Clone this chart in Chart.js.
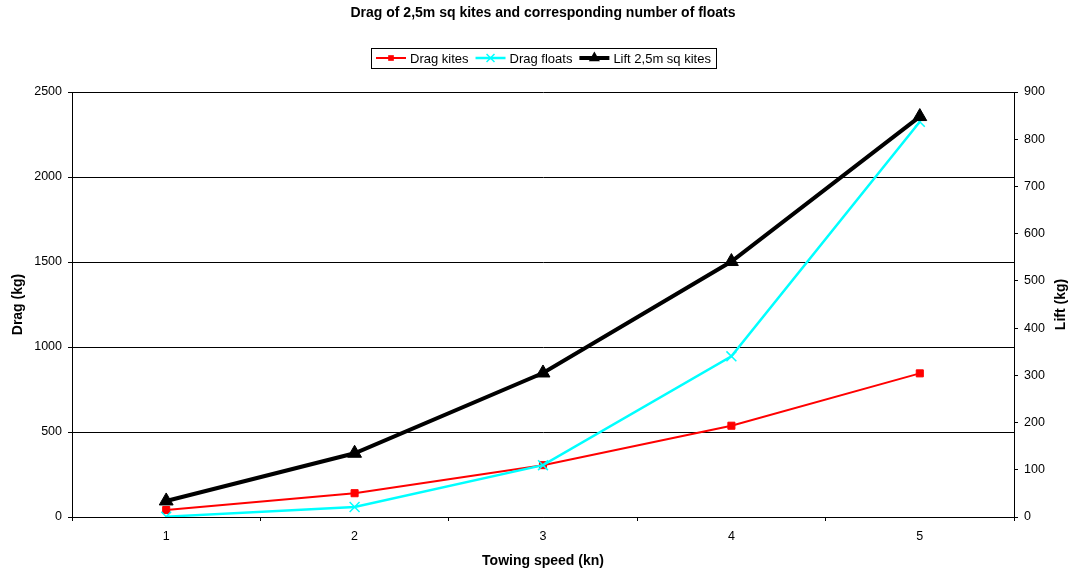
<!DOCTYPE html>
<html>
<head>
<meta charset="utf-8">
<title>Drag of 2,5m sq kites</title>
<script src="https://cdn.jsdelivr.net/npm/chart.js@4/dist/chart.umd.min.js"></script>
<style>
  html, body { margin: 0; padding: 0; background: #fff; }
  #wrap { width: 1071px; height: 572px; }
</style>
</head>
<body>
<div id="wrap"><canvas id="chart" width="1071" height="572"></canvas></div>
<script>
var speeds = ['1', '2', '3', '4', '5'];
var dragKites = [41, 140, 305, 537, 845];
var dragFloats = [2, 59, 305, 945, 2325];
var liftKites = [34, 135, 305, 541, 848];
var dragTicks = [0, 500, 1000, 1500, 2000, 2500];
var liftTicks = [0, 100, 200, 300, 400, 500, 600, 700, 800, 900];

var chartTitle = 'Drag of 2,5m sq kites and corresponding number of floats';
var liftTitle = 'Lift (kg)';
var fontFamily = "'Liberation Sans', Arial, sans-serif";

function drawMarker(ctx, style, x, y, r, color) {
  ctx.save();
  ctx.fillStyle = color;
  ctx.strokeStyle = color;
  ctx.beginPath();
  if (style === 'rect') {
    var s = r * Math.SQRT1_2;
    ctx.rect(x - s, y - s, s * 2, s * 2);
    ctx.fill();
  } else if (style === 'triangle') {
    ctx.moveTo(x, y - r);
    ctx.lineTo(x + r * 0.866, y + r * 0.5);
    ctx.lineTo(x - r * 0.866, y + r * 0.5);
    ctx.closePath();
    ctx.fill();
  } else if (style === 'crossRot') {
    var c = r * Math.SQRT1_2;
    ctx.lineWidth = 1.5;
    ctx.moveTo(x - c, y - c);
    ctx.lineTo(x + c, y + c);
    ctx.moveTo(x - c, y + c);
    ctx.lineTo(x + c, y - c);
    ctx.stroke();
  }
  ctx.restore();
}

var headerPlugin = {
  id: 'header',
  afterDraw: function (chart) {
    var ctx = chart.ctx;
    var area = chart.chartArea;
    var cx = (area.left + area.right) / 2;

    ctx.save();
    ctx.fillStyle = '#000';
    ctx.textAlign = 'center';
    ctx.textBaseline = 'middle';
    ctx.font = 'bold 14px ' + fontFamily;
    ctx.fillText(chartTitle, cx, 13);

    // right axis title reads bottom-to-top like the left one
    ctx.save();
    ctx.translate(1061, (area.top + area.bottom) / 2);
    ctx.rotate(-Math.PI / 2);
    ctx.fillText(liftTitle, 0, 0);
    ctx.restore();

    // legend with line + marker samples, framed
    ctx.font = '13px ' + fontFamily;
    var sets = chart.data.datasets;
    var lineLen = 30, gap = 4, itemGap = 7, pad = 5;
    var total = pad * 2 - itemGap;
    sets.forEach(function (ds) {
      total += lineLen + gap + ctx.measureText(ds.label).width + itemGap;
    });
    var x = Math.round(cx - total / 2);
    var top = 48, h = 20, mid = top + h / 2;

    ctx.strokeStyle = '#000';
    ctx.lineWidth = 1;
    ctx.strokeRect(x + 0.5, top + 0.5, Math.round(total), h);

    var ix = x + pad;
    ctx.textAlign = 'left';
    sets.forEach(function (ds) {
      ctx.beginPath();
      ctx.strokeStyle = ds.borderColor;
      ctx.lineWidth = ds.borderWidth;
      ctx.moveTo(ix, mid);
      ctx.lineTo(ix + lineLen, mid);
      ctx.stroke();
      drawMarker(ctx, ds.pointStyle, ix + lineLen / 2, mid, ds.pointRadius * 0.8, ds.borderColor);
      ix += lineLen + gap;
      ctx.fillStyle = '#000';
      ctx.fillText(ds.label, ix, mid + 1);
      ix += ctx.measureText(ds.label).width + itemGap;
    });
    ctx.restore();
  }
};

function plainTick(value) {
  return String(value);
}

Chart.defaults.font.family = fontFamily;
Chart.defaults.color = '#000';

new Chart(document.getElementById('chart'), {
  type: 'line',
  data: {
    labels: speeds,
    datasets: [{
      label: 'Drag kites',
      data: dragKites,
      yAxisID: 'y',
      borderColor: '#ff0000',
      backgroundColor: '#ff0000',
      borderWidth: 2,
      pointStyle: 'rect',
      pointRadius: 5,
      pointBorderWidth: 1,
      order: 3
    }, {
      label: 'Drag floats',
      data: dragFloats,
      yAxisID: 'y',
      borderColor: '#00ffff',
      backgroundColor: '#00ffff',
      borderWidth: 2.5,
      pointStyle: 'crossRot',
      pointRadius: 7,
      pointBorderWidth: 1.5,
      order: 2
    }, {
      label: 'Lift 2,5m sq kites',
      data: liftKites,
      yAxisID: 'y1',
      borderColor: '#000000',
      backgroundColor: '#000000',
      borderWidth: 4,
      pointStyle: 'triangle',
      pointRadius: 8,
      pointBorderWidth: 1,
      order: 1
    }]
  },
  options: {
    responsive: false,
    animation: false,
    devicePixelRatio: 1,
    layout: { padding: { top: 92, left: 0, right: 0, bottom: 0 } },
    plugins: {
      legend: { display: false },
      title: { display: false },
      tooltip: { enabled: false }
    },
    elements: { line: { tension: 0 } },
    scales: {
      x: {
        type: 'category',
        offset: true,
        grid: { offset: true, drawOnChartArea: false, tickLength: 4, color: '#000' },
        border: { color: '#000', width: 1 },
        ticks: { font: { size: 12.5 }, padding: 8, color: '#000' },
        title: { display: true, text: 'Towing speed (kn)', font: { size: 14, weight: 'bold' }, color: '#000', padding: { top: 2, bottom: 2 } },
        afterFit: function (scale) { scale.height = 55; }
      },
      y: {
        position: 'left',
        min: 0,
        max: 2500,
        afterBuildTicks: function (scale) {
          scale.ticks = dragTicks.map(function (v) { return { value: v }; });
        },
        grid: { color: '#000', tickLength: 4 },
        border: { color: '#000', width: 1 },
        ticks: { font: { size: 12.5 }, padding: 6, color: '#000', callback: plainTick },
        title: { display: true, text: 'Drag (kg)', font: { size: 14, weight: 'bold' }, color: '#000', padding: { top: 10, bottom: 4 } },
        afterFit: function (scale) { scale.width = 72; }
      },
      y1: {
        position: 'right',
        min: 0,
        max: 900,
        afterBuildTicks: function (scale) {
          scale.ticks = liftTicks.map(function (v) { return { value: v }; });
        },
        grid: { drawOnChartArea: false, color: '#000', tickLength: 4 },
        border: { color: '#000', width: 1 },
        ticks: { font: { size: 12.5 }, padding: 6, color: '#000', callback: plainTick },
        title: { display: false },
        afterFit: function (scale) { scale.width = 57; }
      }
    }
  },
  plugins: [headerPlugin]
});
</script>
</body>
</html>
